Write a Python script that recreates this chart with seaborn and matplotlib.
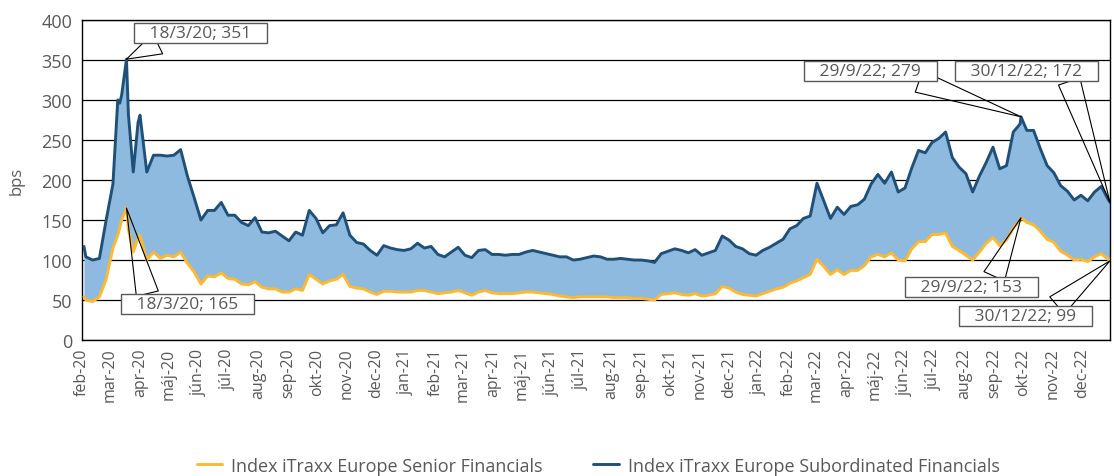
import matplotlib
matplotlib.use("Agg")
import matplotlib.pyplot as plt
import numpy as np
import pandas as pd
import seaborn as sns

# weekly (wednesday) observations + a few extra days around the key points
weekly = pd.date_range("2020-02-05", "2022-12-28", freq="W-WED")
extra_days = pd.to_datetime(["2020-02-03", "2020-03-09", "2020-03-13", "2020-03-20",
                             "2020-03-30", "2022-09-29", "2022-12-30"])
dates = weekly.union(extra_days)

subordinated = [
    # 2020
    117, 104, 100, 102, 150,
    195, 300, 296, 306, 351, 282, 210, 272,
    281, 210, 231, 231, 230,
    231, 238, 205, 178,
    150, 162, 162, 172,
    156, 156, 147, 143, 153,
    135, 134, 136, 130,
    124, 135, 131, 162, 152,
    134, 143, 144, 159,
    131, 122, 120, 112,
    106, 118, 115, 113, 112,
    # 2021
    114, 121, 115, 117,
    107, 104, 110, 116,
    106, 103, 112, 113, 107,
    107, 106, 107, 107,
    110, 112, 110, 108,
    106, 104, 104, 100, 101,
    103, 105, 104, 101,
    101, 102, 101, 100,
    100, 99, 97, 108, 111,
    114, 112, 109, 113,
    106, 109, 112, 130,
    125, 117, 114, 108, 106,
    # 2022
    112, 116, 121, 126,
    139, 143, 152, 155,
    196, 174, 152, 166, 157,
    167, 169, 176, 195,
    207, 196, 210, 185,
    190, 215, 237, 234, 247,
    252, 260, 228, 216,
    208, 185, 205, 222, 241,
    214, 218, 260, 270, 279,
    262, 262, 239, 218,
    209, 193, 186, 175, 181,
    174, 185, 192, 176, 172,
]

senior = [
    # 2020
    54, 50, 48, 54, 76,
    115, 131, 140, 150, 165, 138, 110, 128,
    131, 100, 110, 102, 106,
    104, 110, 96, 85,
    70, 80, 79, 84,
    77, 76, 70, 69, 73,
    66, 64, 64, 60,
    60, 64, 62, 82, 76,
    70, 74, 76, 82,
    67, 65, 64, 60,
    57, 61, 61, 60, 60,
    # 2021
    60, 62, 62, 60,
    58, 59, 60, 62,
    59, 56, 60, 62, 59,
    58, 58, 58, 59,
    60, 60, 59, 58,
    57, 55, 54, 53, 54,
    54, 54, 54, 54,
    53, 53, 53, 52,
    52, 51, 50, 57, 58,
    59, 57, 56, 58,
    55, 56, 58, 67,
    65, 60, 57, 56, 55,
    # 2022
    58, 61, 64, 66,
    71, 74, 78, 82,
    101, 92, 82, 88, 82,
    87, 87, 93, 104,
    107, 104, 109, 100,
    99, 114, 123, 123, 132,
    132, 134, 117, 112,
    106, 100, 110, 121, 128,
    118, 125, 140, 150, 153,
    147, 144, 136, 126,
    122, 111, 106, 100, 101,
    98, 104, 108, 101, 99,
]

series_names = ["Index iTraxx Europe Senior Financials",
                "Index iTraxx Europe Subordinated Financials"]
months_sk = ["jan", "feb", "mar", "apr", "máj", "jún", "júl", "aug", "sep", "okt", "nov", "dec"]

# (text, date, value, text position in axes fraction, where the callout leaves the box)
callouts = [
    ("18/3/20; 351", "2020-03-18", 351, (0.115, 0.959), (0.21, 0.0)),
    ("18/3/20; 165", "2020-03-18", 165, (0.103, 0.112), (0.19, 1.0)),
    ("29/9/22; 279", "2022-09-29", 279, (0.767, 0.841), (0.82, 0.0)),
    ("30/12/22; 172", "2022-12-30", 172, (0.919, 0.841), (0.80, 0.0)),
    ("29/9/22; 153", "2022-09-29", 153, (0.865, 0.166), (0.67, 1.0)),
    ("30/12/22; 99", "2022-12-30", 99, (0.918, 0.075), (0.72, 1.0)),
]

df = pd.DataFrame({"date": dates, series_names[0]: senior, series_names[1]: subordinated})
long = df.melt(id_vars="date", var_name="index", value_name="bps")

sns.set_style("white")
plt.rcParams["font.family"] = ["Open Sans", "DejaVu Sans"]
gray = "#595959"

fig = plt.figure(figsize=(11.14, 4.77), dpi=100)
ax = fig.add_axes([0.0736, 0.285, 0.9228, 0.671])

ax.fill_between(df["date"], df[series_names[0]], df[series_names[1]],
                color="#8FBADF", lw=0, zorder=1)
sns.lineplot(data=long, x="date", y="bps", hue="index", ax=ax,
             palette=["#FDB92F", "#1F5079"], linewidth=2.1, zorder=3)

ax.set_ylim(0, 400)
ax.set_yticks(np.arange(0, 401, 50))
ax.set_xlim(pd.Timestamp("2020-02-01"), pd.Timestamp("2022-12-30"))
tick_dates = pd.date_range("2020-02-01", "2022-12-01", freq="MS")
ax.set_xticks(tick_dates)
ax.set_xticklabels([f"{months_sk[d.month - 1]}-{d.strftime('%y')}" for d in tick_dates],
                   rotation=90)
ax.grid(axis="y", color="black", lw=0.9)
ax.set_axisbelow(True)

ax.tick_params(axis="x", direction="inout", length=7, width=1, colors="black",
               labelcolor=gray, labelsize=11.5, pad=2)
ax.tick_params(axis="y", direction="out", length=5, width=1, colors="black",
               labelcolor=gray, labelsize=13, pad=2)
ax.set_xlabel("")
ax.set_ylabel("bps", color=gray, fontsize=12, labelpad=12)
for side in ["left", "bottom", "top", "right"]:
    ax.spines[side].set_color("black")
    ax.spines[side].set_linewidth(1.0)

for text, day, value, pos, rel in callouts:
    ax.annotate("   " + text + "   ", xy=(pd.Timestamp(day), value), xycoords="data",
                xytext=pos, textcoords="axes fraction", ha="center", va="center",
                fontsize=12.5, color=gray, zorder=6,
                bbox=dict(boxstyle="square,pad=0.12", fc="white", ec=gray, lw=1),
                arrowprops=dict(arrowstyle="wedge,tail_width=1.3,shrink_factor=0.5",
                                fc="none", ec="black", lw=0.8, relpos=rel,
                                shrinkA=0, shrinkB=0))

handles, labels = ax.get_legend_handles_labels()
ax.get_legend().remove()
fig.legend(handles, labels, loc="center", bbox_to_anchor=(0.537, 0.022), ncol=2,
           frameon=False, fontsize=13, labelcolor=gray, handlelength=1.4,
           handletextpad=0.5, columnspacing=2.8)

fig.savefig("out.png", dpi=100)
